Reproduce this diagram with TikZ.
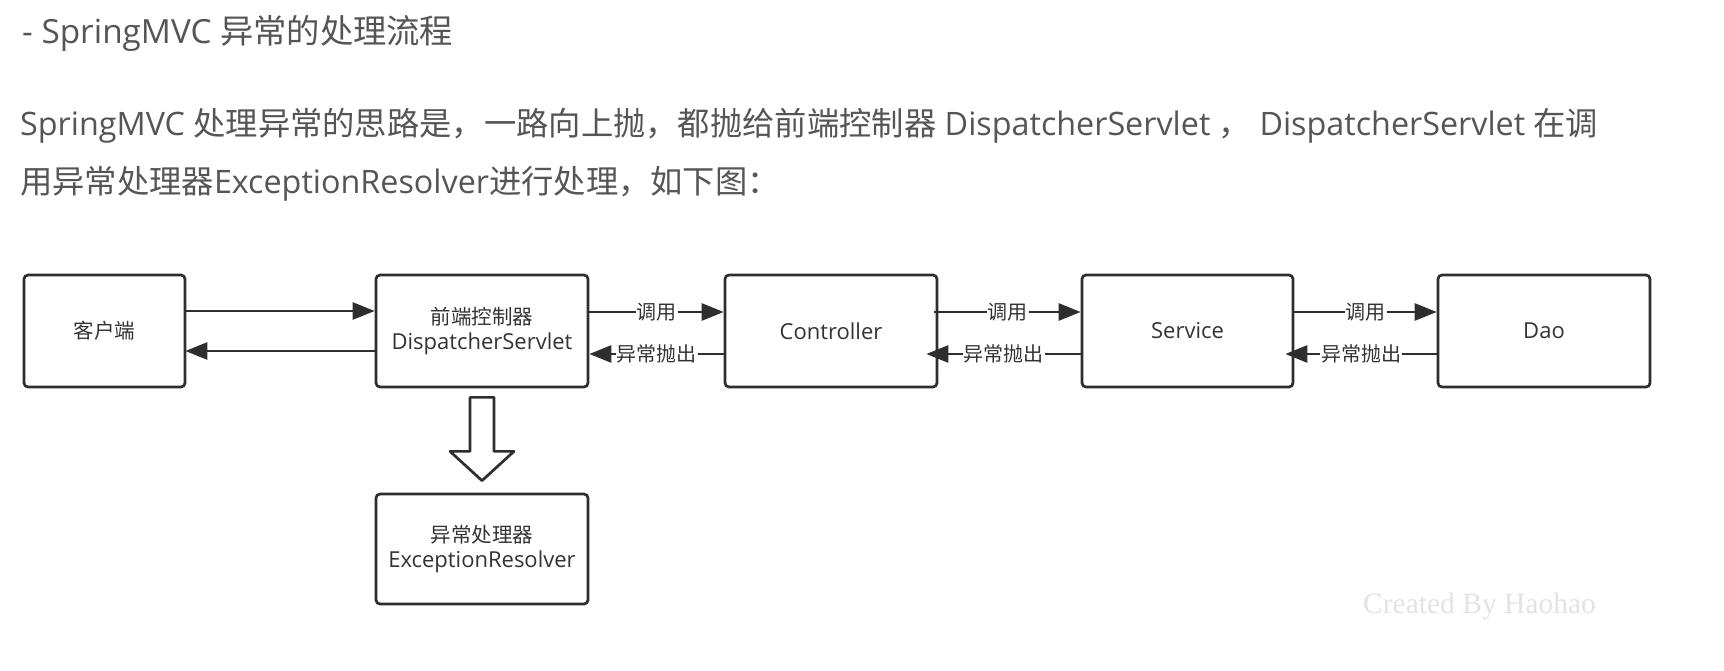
\documentclass[tikz,border=0pt]{standalone}
\usepackage{fontspec}
\setmainfont{Open Sans}
\newfontfamily\cjk{Noto Sans CJK SC}
\newfontfamily\wmfont{Liberation Serif}
\usetikzlibrary{arrows.meta,calc}
\definecolor{headc}{HTML}{555555}
\definecolor{linec}{HTML}{2E2E2E}
\definecolor{boxtxt}{HTML}{333333}
\definecolor{wmc}{HTML}{E3E3E3}
\newcommand{\bc}[1]{{\cjk\fontsize{20.5}{25}\selectfont #1}}
\begin{document}
\begin{tikzpicture}[x=1pt,y=-1pt,
  box/.style={draw=linec, line width=2.7pt, rounded corners=4pt, fill=white, text=boxtxt, align=center, font=\fontsize{22}{25}\selectfont, inner sep=0pt},
  conn/.style={draw=linec, line width=2.7pt, -{Triangle[length=22pt,width=17pt]}},
  lbl/.style={fill=white, text=boxtxt, font=\cjk\fontsize{20}{24}\selectfont, inner sep=1pt},
  para/.style={anchor=west, text=headc, font=\fontsize{32.3}{38}\selectfont, inner sep=0pt}]
\useasboundingbox (0,0) rectangle (1724,671);
\fill[white] (0,0) rectangle (1724,671);

\node[para, font=\fontsize{33.3}{38}\selectfont] (title) at (22,33) {- SpringMVC {\cjk 异常的处理流程}};
\node[para] (line1) at (20,126) {SpringMVC {\cjk 处理异常的思路是，一路向上抛，都抛给前端控制器} DispatcherServlet {\cjk ，} DispatcherServlet {\cjk 在调}};
\node[para] (line2) at (20,184) {{\cjk 用异常处理器}ExceptionResolver{\cjk 进行处理，如下图：}};

\node[box, minimum width=161pt, minimum height=112pt] (client) at (104.5,331) {\bc{客户端}};
\node[box, minimum width=212pt, minimum height=112pt] (ds) at (482,331) {\bc{前端控制器}\\DispatcherServlet};
\node[box, minimum width=212pt, minimum height=112pt] (ctrl) at (831,331) {Controller};
\node[box, minimum width=211pt, minimum height=112pt] (svc) at (1187.5,331) {Service};
\node[box, minimum width=212pt, minimum height=112pt] (dao) at (1544,331) {Dao};
\node[box, minimum width=212pt, minimum height=110pt] (er) at (482,549) {\bc{异常处理器}\\ExceptionResolver};

\draw[conn] ([yshift=20pt]client.east) -- ([yshift=20pt]ds.west);
\draw[conn] ([yshift=-20pt]ds.west) -- ([yshift=-20pt,xshift=-1pt]client.east);

\draw[conn] ([yshift=19pt]ds.east) -- node[lbl]{调用} ([yshift=19pt]ctrl.west);
\draw[conn] ([yshift=-23pt]ctrl.west) -- node[lbl]{异常抛出} ([yshift=-23pt]ds.east);

\draw[conn] ([yshift=19pt,xshift=-4pt]ctrl.east) -- node[lbl]{调用} ([yshift=19pt]svc.west);
\draw[conn] ([yshift=-23pt]svc.west) -- node[lbl]{异常抛出} ([yshift=-23pt,xshift=-12pt]ctrl.east);

\draw[conn] ([yshift=19pt]svc.east) -- node[lbl]{调用} ([yshift=19pt]dao.west);
\draw[conn] ([yshift=-23pt]dao.west) -- node[lbl]{异常抛出} ([yshift=-23pt,xshift=-9pt]svc.east);

\draw[draw=linec, line width=2.7pt, fill=white, line join=round]
  ($(ds.south)+(-12,9)$) -- ++(24,0) -- ++(0,54) -- ++(20,0) -- ($(er.north)+(0,-12)$)
  -- ($(ds.south)+(-32,63)$) -- ++(20,0) -- cycle;

\node[text=wmc, font=\wmfont\fontsize{29.5}{30}\selectfont, anchor=west, inner sep=0pt] (wm) at (1363,606) {Created By Haohao};
\end{tikzpicture}
\end{document}
